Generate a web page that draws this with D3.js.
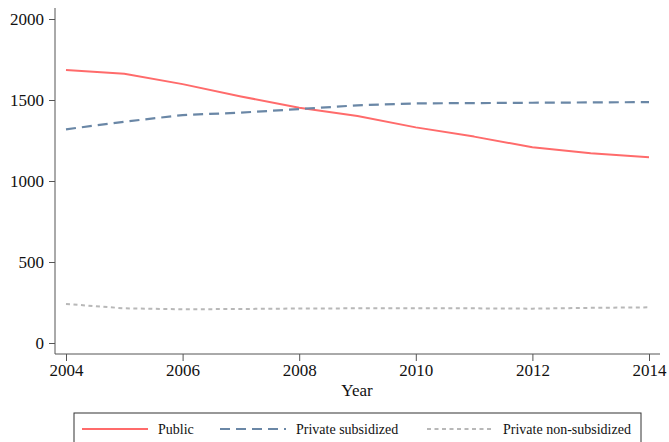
<html>
<head>
<meta charset="utf-8">
<script src="https://d3js.org/d3.v7.min.js"></script>
<style>
body { margin: 0; background: #fff; }
svg text { font-family: "Liberation Serif", "Times New Roman", serif !important; fill: #111; }
</style>
</head>
<body>
<div id="chart"></div>
<script>

// data
const years = [2004, 2005, 2006, 2007, 2008, 2009, 2010, 2011, 2012, 2013, 2014];
const publicVals = [1685, 1662, 1598, 1522, 1452, 1401, 1331, 1274, 1208, 1171, 1146];
const subsidized = [1319, 1366, 1407, 1422, 1444, 1467, 1479, 1481, 1483, 1485, 1487];
const nonSubsidized = [241, 214, 208, 210, 213, 214, 214, 214, 212, 217, 220];
const yTicks = [0, 500, 1000, 1500, 2000];
const xTicks = [2004, 2006, 2008, 2010, 2012, 2014];
const seriesNames = ["Public", "Private subsidized", "Private non-subsidized"];

const W = 669, H = 442;
const svg = d3.select("#chart").append("svg")
  .attr("width", W).attr("height", H);

// scales
const x = d3.scaleLinear().domain([2004, 2014]).range([66, 649]);
const y = d3.scaleLinear().domain([0, 2000]).range([343, 19]);

const axisColor = "#555";

// y axis
const gy = svg.append("g")
  .attr("transform", "translate(55,0)")
  .call(d3.axisLeft(y).tickValues(yTicks).tickFormat(d3.format("d")).tickSize(6).tickPadding(5).tickSizeOuter(0));
gy.attr("font-family", null).attr("font-size", null);
gy.select(".domain").attr("d", "M0,8V354").attr("stroke", axisColor);
gy.selectAll(".tick line").attr("stroke", axisColor);
gy.selectAll("text").style("font-size", "17px").attr("dy", "0.34em");

// x axis
const gx = svg.append("g")
  .attr("transform", "translate(0,354)")
  .call(d3.axisBottom(x).tickValues(xTicks).tickFormat(d3.format("d")).tickSize(7).tickPadding(3).tickSizeOuter(0));
gx.attr("font-family", null).attr("font-size", null);
gx.select(".domain").attr("d", "M55,0H660").attr("stroke", axisColor);
gx.selectAll(".tick line").attr("stroke", axisColor);
gx.selectAll("text").style("font-size", "17px");

svg.append("text")
  .attr("x", 357).attr("y", 396)
  .attr("text-anchor", "middle")
  .style("font-size", "17px")
  .text("Year");

// series
const styles = [
  {color: "#ff6b6b", dash: null, width: 2},
  {color: "#6a87a6", dash: "10,6", width: 2.2},
  {color: "#b8b8b8", dash: "4,3.5", width: 2}
];
const allSeries = [publicVals, subsidized, nonSubsidized];

const line = d3.line()
  .x((d, i) => x(years[i]))
  .y(d => y(d));

allSeries.forEach((vals, k) => {
  svg.append("path")
    .datum(vals)
    .attr("fill", "none")
    .attr("stroke", styles[k].color)
    .attr("stroke-width", styles[k].width)
    .attr("stroke-linejoin", "round")
    .attr("stroke-dasharray", styles[k].dash)
    .attr("d", line);
});

// legend
svg.append("rect")
  .attr("x", 74).attr("y", 413)
  .attr("width", 567).attr("height", 40)
  .attr("fill", "none")
  .attr("stroke", "#333")
  .attr("stroke-width", 1);

const legendX = [82, 220, 427];
seriesNames.forEach((name, k) => {
  const g = svg.append("g").attr("transform", `translate(${legendX[k]},429)`);
  g.append("line")
    .attr("x1", 0).attr("x2", 66)
    .attr("stroke", styles[k].color)
    .attr("stroke-width", styles[k].width)
    .attr("stroke-dasharray", styles[k].dash);
  g.append("text")
    .attr("x", 76).attr("dy", "0.35em")
    .style("font-size", "14px")
    .text(name);
});

</script>
</body>
</html>
